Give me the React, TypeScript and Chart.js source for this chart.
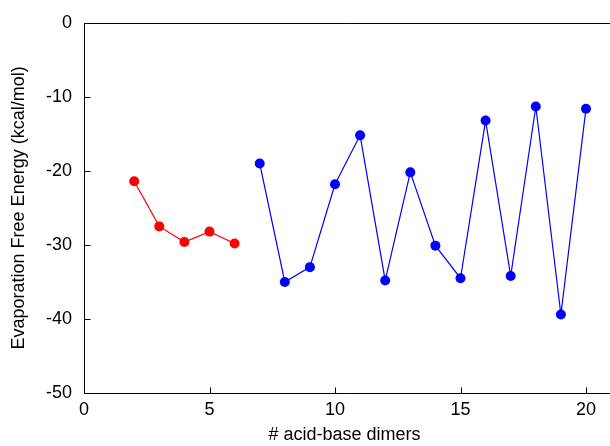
import React, { useEffect, useRef } from "react";
import { Chart, registerables } from "chart.js";

Chart.register(...registerables);

const redX = [2, 3, 4, 5, 6];
const redY = [-21.4, -27.5, -29.6, -28.2, -29.8];
const blueX = [7, 8, 9, 10, 11, 12, 13, 14, 15, 16, 17, 18, 19, 20];
const blueY = [-19.0, -35.0, -33.0, -21.8, -15.2, -34.8, -20.2, -30.1, -34.5, -13.2, -34.2, -11.3, -39.4, -11.6];
const xTicks = [0, 5, 10, 15, 20];
const yTicks = [0, -10, -20, -30, -40, -50];
const X_PX_PER_UNIT = 25.1;

const FONT = "'Liberation Sans', Arial, Helvetica, sans-serif";

const framePlugin = {
  id: "frame",
  afterDraw(chart: any) {
    const { ctx, chartArea } = chart;
    const xs = chart.scales.x;
    const ys = chart.scales.y;
    const l = Math.round(chartArea.left) + 0.5;
    const t = Math.round(chartArea.top) + 0.5;
    const b = Math.round(chartArea.bottom) + 0.5;
    ctx.save();
    ctx.strokeStyle = "#000";
    ctx.lineWidth = 1;
    ctx.beginPath();
    ctx.moveTo(chart.width + 5, t);
    ctx.lineTo(l, t);
    ctx.lineTo(l, b);
    ctx.lineTo(chart.width + 5, b);
    const L = 6;
    for (const v of xTicks) {
      const px = Math.round(xs.getPixelForValue(v)) + 0.5;
      ctx.moveTo(px, b);
      ctx.lineTo(px, b - L);
    }
    for (const v of yTicks) {
      const py = Math.round(ys.getPixelForValue(v)) + 0.5;
      ctx.moveTo(l, py);
      ctx.lineTo(l + L, py);
    }
    ctx.stroke();
    ctx.restore();
  },
};

export default function App() {
  const ref = useRef<HTMLCanvasElement>(null);
  useEffect(() => {
    if (!ref.current) return;
    const chart = new Chart(ref.current, {
      type: "line",
      data: {
        datasets: [
          {
            data: redX.map((x, i) => ({ x, y: redY[i] })),
            borderColor: "#ff0000",
            backgroundColor: "#ff0000",
            borderWidth: 1.2,
            pointRadius: 5,
            pointBorderWidth: 0,
            pointHoverRadius: 5,
          },
          {
            data: blueX.map((x, i) => ({ x, y: blueY[i] })),
            borderColor: "#0000ff",
            backgroundColor: "#0000ff",
            borderWidth: 1.2,
            pointRadius: 5,
            pointBorderWidth: 0,
            pointHoverRadius: 5,
          },
        ],
      },
      options: {
        animation: false,
        responsive: false,
        maintainAspectRatio: false,
        layout: { padding: { top: 22, right: 0, left: 0, bottom: 0 } },
        plugins: { legend: { display: false }, tooltip: { enabled: false } },
        scales: {
          x: {
            type: "linear",
            min: 0,
            max: 21,
            grid: { drawOnChartArea: false, drawTicks: false, display: false },
            border: { display: false },
            ticks: {
              stepSize: 5,
              includeBounds: false,
              padding: 6,
              color: "#000",
              font: { family: FONT, size: 18 },
              maxRotation: 0,
            },
            title: {
              display: true,
              text: "# acid-base dimers",
              color: "#000",
              font: { family: FONT, size: 18 },
              padding: { top: 2, bottom: 0 },
            },
            afterDataLimits: (s: any) => {
              if (s.width > 100) s.max = s.min + s.width / X_PX_PER_UNIT;
            },
            afterFit: (s: any) => {
              s.height = 53;
            },
          },
          y: {
            type: "linear",
            min: -50,
            max: 0,
            grid: { drawOnChartArea: false, drawTicks: false, display: false },
            border: { display: false },
            ticks: {
              stepSize: 10,
              padding: 12,
              color: "#000",
              font: { family: FONT, size: 18 },
            },
            title: {
              display: true,
              text: "Evaporation Free Energy (kcal/mol)",
              color: "#000",
              font: { family: FONT, size: 18 },
              padding: { top: 8, bottom: 0 },
            },
            afterFit: (s: any) => {
              s.width = 84;
            },
          },
        },
      },
      plugins: [framePlugin],
    });
    return () => chart.destroy();
  }, []);
  return (
    <div style={{ position: "fixed", left: 0, top: 0, width: 610, height: 446, background: "#fff" }}>
      <canvas ref={ref} width={610} height={446} style={{ display: "block" }} />
    </div>
  );
}
